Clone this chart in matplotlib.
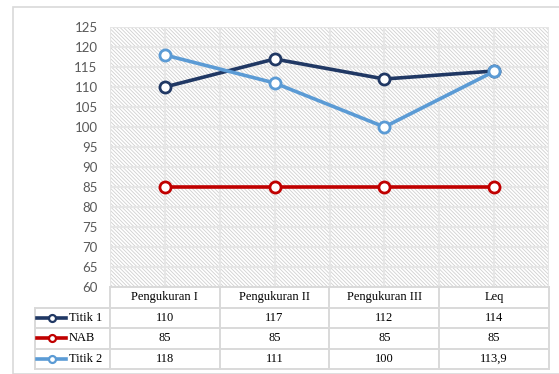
import matplotlib
matplotlib.use('Agg')
import matplotlib.pyplot as plt
from matplotlib.patches import Rectangle
from matplotlib.lines import Line2D

# data
categories = ['Pengukuran I', 'Pengukuran II', 'Pengukuran III', 'Leq']
titik1 = [110, 117, 112, 114]
nab = [85, 85, 85, 85]
titik2 = [118, 111, 100, 113.9]
table_text = {
    'Titik 1': ['110', '117', '112', '114'],
    'NAB': ['85', '85', '85', '85'],
    'Titik 2': ['118', '111', '100', '113,9'],
}
yticks = list(range(60, 126, 5))

colors = {'Titik 1': '#203864', 'NAB': '#C00000', 'Titik 2': '#5B9BD5'}
series = [('Titik 1', titik1), ('NAB', nab), ('Titik 2', titik2)]

plt.rcParams['hatch.linewidth'] = 0.6

W, H = 559, 374
fig = plt.figure(figsize=(W / 100, H / 100), dpi=100)

def px_box(x0, y0, x1, y1):
    return [x0 / W, 1 - y1 / H, (x1 - x0) / W, (y1 - y0) / H]

# outer chart frame
fig.patches.append(Rectangle((13 / W, 0), 1, 1 - 7 / H, transform=fig.transFigure,
                             fill=False, edgecolor='#d9d9d9', linewidth=1.2))

# plot area
ax = fig.add_axes(px_box(110, 27, 549, 287))
x = list(range(len(categories)))
ax.set_xlim(-0.5, len(categories) - 0.5)
ax.set_ylim(60, 125)
ax.add_patch(Rectangle((-0.5, 60), 4, 65, facecolor='white', edgecolor='#d0d0d0',
                       hatch='\\' * 9, linewidth=0, zorder=0))
for v in yticks:
    ax.axhline(v, color='#e6e6e6', linewidth=1.5, zorder=1)
for k in range(9):
    ax.axvline(-0.5 + k * 0.5, color='#e6e6e6', linewidth=1.5, zorder=1)
for name, vals in series:
    ax.plot(x, vals, color=colors[name], linewidth=2.6, marker='o', markersize=8,
            markerfacecolor='white', markeredgecolor=colors[name], markeredgewidth=2,
            zorder=3)
ax.set_yticks(yticks)
ax.set_xticks([])
ax.tick_params(axis='y', length=0, pad=9, labelsize=9.5, labelcolor='#595959')
for lab in ax.get_yticklabels():
    lab.set_fontfamily('Lato')
for s in ax.spines.values():
    s.set_visible(False)

# data table below the plot
tax = fig.add_axes(px_box(35, 287, 549, 369))
left = -0.5 - 75 / 109.8
tax.set_xlim(left, 3.5)
tax.set_ylim(4, 0)
tax.axis('off')
gc = '#d9d9d9'
lw = 1.4
# horizontal lines
tax.plot([-0.5, 3.5], [0, 0], color=gc, lw=lw, clip_on=False)
for r in range(1, 5):
    tax.plot([left, 3.5], [r, r], color=gc, lw=lw, clip_on=False)
# vertical lines
tax.plot([left, left], [1, 4], color=gc, lw=lw, clip_on=False)
for k in range(5):
    tax.plot([-0.5 + k, -0.5 + k], [0, 4], color=gc, lw=lw, clip_on=False)

tfont = dict(family='Liberation Serif', fontsize=9, color='black',
             ha='center', va='center')
for i, c in enumerate(categories):
    tax.text(i, 0.5, c, **tfont)
for r, (name, vals) in enumerate(series, start=1):
    for i, t in enumerate(table_text[name]):
        tax.text(i, r + 0.5, t, **tfont)
    kx = left + 2 / 109.8
    tax.add_line(Line2D([kx, kx + 29 / 109.8], [r + 0.5, r + 0.5], color=colors[name],
                        lw=2.6, clip_on=False))
    tax.plot([kx + 15 / 109.8], [r + 0.5], marker='o', markersize=5,
             markerfacecolor='white', markeredgecolor=colors[name],
             markeredgewidth=1.6, clip_on=False)
    tax.text(kx + 32 / 109.8, r + 0.5, name, family='Liberation Serif',
             fontsize=9, ha='left', va='center')

fig.savefig('out.png', dpi=100)
